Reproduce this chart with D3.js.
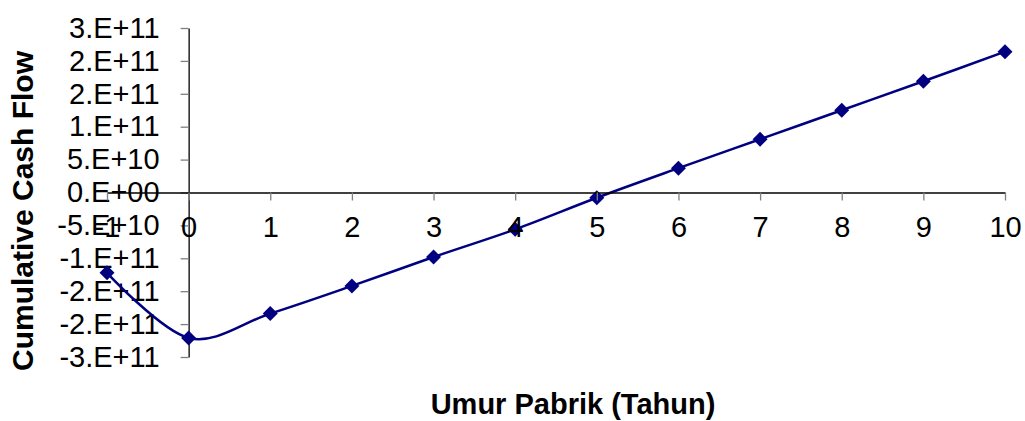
<!DOCTYPE html>
<html>
<head>
<meta charset="utf-8">
<script src="https://cdn.jsdelivr.net/npm/d3@7"></script>
<style>
  html, body { margin: 0; padding: 0; background: #fff; }
  svg { display: block; font-family: "Liberation Sans", Arial, sans-serif; }
</style>
</head>
<body>
<div id="chart"></div>
<script>
// years of operation (x) and cumulative cash flow (y)
const years = [-1, 0, 1, 2, 3, 4, 5, 6, 7, 8, 9, 10];
const cashFlow = [-1.22e11, -2.21e11, -1.84e11, -1.42e11, -0.98e11, -0.56e11,
                  -0.08e11, 0.37e11, 0.81e11, 1.25e11, 1.69e11, 2.14e11];

// y ticks every 5E+10, labelled the way Excel's "0.E+00" format rounds them
const yTickValues = [2.5e11, 2e11, 1.5e11, 1e11, 5e10, 0, -5e10, -1e11, -1.5e11, -2e11, -2.5e11];
const yTickLabels = ['3.E+11', '2.E+11', '2.E+11', '1.E+11', '5.E+10', '0.E+00',
                     '-5.E+10', '-1.E+11', '-2.E+11', '-2.E+11', '-3.E+11'];
const xTickValues = years;

const xTitle = 'Umur Pabrik (Tahun)';
const yTitle = 'Cumulative Cash Flow';

const width = 1025;
const height = 421;
const plotLeft = 107;
const plotRight = 1005;
const plotTop = 28;
const plotBottom = 357;
const lineColor = '#000080';
const tickColor = '#808080';

const svg = d3.select('#chart')
              .append('svg')
              .attr('width', width)
              .attr('height', height)
              .attr('viewBox', `0 0 ${width} ${height}`);

const x = d3.scaleLinear()
            .domain([-1, 10])
            .range([plotLeft, plotRight]);
const y = d3.scaleLinear()
            .domain([-2.5e11, 2.5e11])
            .range([plotBottom, plotTop]);

// Y axis (crosses at x = 0)
const yAxis = d3.axisLeft(y)
                .tickValues(yTickValues)
                .tickFormat((d, i) => yTickLabels[i])
                .tickSize(8)
                .tickSizeOuter(0)
                .tickPadding(21);
const yAxisG = svg.append('g')
                  .attr('transform', `translate(${x(0)}, 0)`)
                  .call(yAxis);
yAxisG.select('.domain').attr('stroke', '#000').attr('stroke-width', 1.3);
yAxisG.selectAll('.tick line').attr('stroke', tickColor).attr('stroke-width', 1.3);
yAxisG.selectAll('.tick text')
      .attr('font-size', 29)
      .attr('font-family', '"Liberation Sans", Arial, sans-serif')
      .attr('fill', '#000');

// the series, smoothed like Excel
const data = years.map((yr, i) => ({ x: yr, y: cashFlow[i] }));
const valueline = d3.line()
                    .x((d) => x(d.x))
                    .y((d) => y(d.y))
                    .curve(d3.curveCardinal.tension(0));
svg.append('path')
   .datum(data)
   .attr('d', valueline)
   .attr('fill', 'none')
   .attr('stroke', lineColor)
   .attr('stroke-width', 2.5);

svg.selectAll('.marker')
   .data(data)
   .enter()
   .append('path')
   .attr('class', 'marker')
   .attr('d', d3.symbol(d3.symbolSquare, 112))
   .attr('transform', (d) => `translate(${x(d.x)}, ${y(d.y)}) rotate(45)`)
   .attr('fill', lineColor);

// X axis (crosses at y = 0)
const xAxis = d3.axisBottom(x)
                .tickValues(xTickValues)
                .tickFormat((d) => d)
                .tickSize(8)
                .tickSizeOuter(0)
                .tickPadding(16);
const xAxisG = svg.append('g')
                  .attr('transform', `translate(0, ${y(0)})`)
                  .call(xAxis);
xAxisG.select('.domain').attr('stroke', '#000').attr('stroke-width', 1.3);
xAxisG.selectAll('.tick line').attr('stroke', tickColor).attr('stroke-width', 1.3);
xAxisG.selectAll('.tick text')
      .attr('font-size', 29)
      .attr('font-family', '"Liberation Sans", Arial, sans-serif')
      .attr('fill', '#000');

// axis titles
svg.append('text')
   .attr('x', 573)
   .attr('y', 414)
   .attr('text-anchor', 'middle')
   .attr('font-size', 29)
   .attr('font-weight', 'bold')
   .text(xTitle);

svg.append('text')
   .attr('transform', 'translate(33, 211) rotate(-90)')
   .attr('text-anchor', 'middle')
   .attr('font-size', 30)
   .attr('font-weight', 'bold')
   .text(yTitle);
</script>
</body>
</html>
